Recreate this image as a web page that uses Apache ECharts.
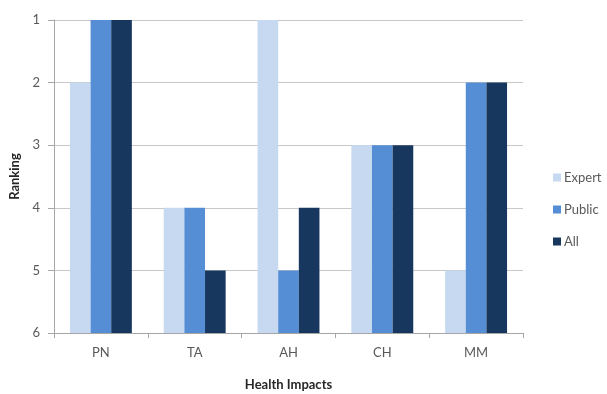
<!DOCTYPE html>
<html>
<head>
<meta charset="utf-8">
<script src="https://cdn.jsdelivr.net/npm/echarts@6/dist/echarts.min.js"></script>
<style>
  html, body { margin: 0; padding: 0; background: #fff; }
  #chart { width: 607px; height: 394px; }
</style>
</head>
<body>
<div id="chart"></div>
<script>
// Health impact rankings (1 = most important)
const categories = ['PN', 'TA', 'AH', 'CH', 'MM'];
const expertRanks = [2, 4, 1, 3, 5];
const publicRanks = [1, 4, 5, 3, 2];
const allRanks = [1, 5, 4, 3, 2];

const FONT = 'Lato, "Open Sans", sans-serif';
const TEXT = '#595959';

const chart = echarts.init(document.getElementById('chart'), null, { renderer: 'canvas' });

function barSeries(name, data, color) {
  return {
    name: name,
    type: 'bar',
    data: data,
    barGap: '0%',
    barCategoryGap: '34%',
    itemStyle: { color: color },
    emphasis: { disabled: true }
  };
}

chart.setOption({
  animation: false,
  textStyle: { fontFamily: FONT },
  grid: { left: 54, right: 84, top: 20, bottom: 61, outerBoundsMode: 'none', containLabel: false },
  legend: {
    orient: 'vertical',
    left: 548,
    top: 166,
    itemWidth: 8,
    itemHeight: 8,
    itemGap: 19,
    icon: 'rect',
    textStyle: { color: TEXT, fontSize: 13, fontFamily: FONT, padding: [0, 0, 0, -2] },
    data: ['Expert', 'Public', 'All']
  },
  xAxis: {
    type: 'category',
    data: categories,
    name: 'Health Impacts',
    nameLocation: 'middle',
    nameGap: 45,
    nameTextStyle: { color: '#262626', fontSize: 13, fontWeight: 'bold', fontFamily: FONT },
    axisLine: { lineStyle: { color: '#a6a6a6', width: 1 } },
    axisTick: { show: true, length: 5, lineStyle: { color: '#a6a6a6' } },
    axisLabel: { color: TEXT, fontSize: 13, margin: 13, fontFamily: FONT }
  },
  yAxis: {
    type: 'value',
    inverse: true,
    min: 1,
    max: 6,
    interval: 1,
    startValue: 6,
    name: 'Ranking',
    nameLocation: 'middle',
    nameGap: 31,
    nameRotate: 90,
    nameTextStyle: { color: '#262626', fontSize: 13, fontWeight: 'bold', fontFamily: FONT },
    axisLine: { show: true, lineStyle: { color: '#a6a6a6', width: 1 } },
    axisTick: { show: true, length: 6, lineStyle: { color: '#a6a6a6' } },
    axisLabel: { color: TEXT, fontSize: 13, margin: 14, fontFamily: FONT },
    splitLine: { show: true, lineStyle: { color: '#c8c8c8', width: 1 } }
  },
  series: [
    barSeries('Expert', expertRanks, '#c6d9f1'),
    barSeries('Public', publicRanks, '#558ed5'),
    barSeries('All', allRanks, '#17375e')
  ]
});
</script>
</body>
</html>
